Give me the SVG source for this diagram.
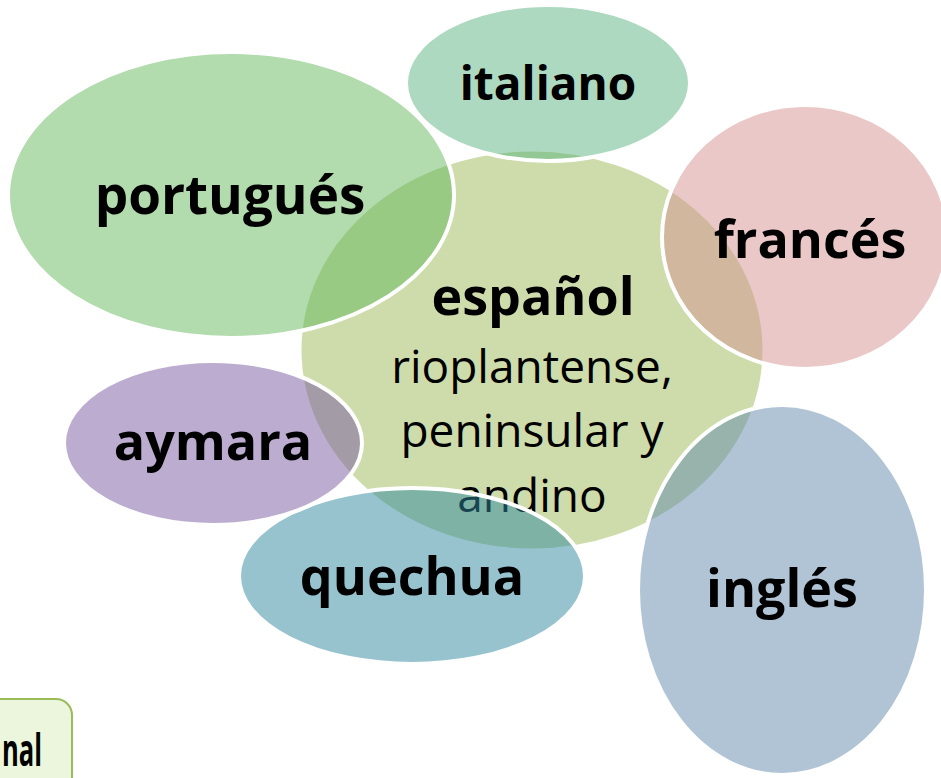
<svg xmlns="http://www.w3.org/2000/svg" width="941" height="778" viewBox="0 0 941 778">
<style>
.sat{stroke:#ffffff;stroke-width:4;fill-opacity:0.5}
.b{font-family:"Open Sans","Liberation Sans",sans-serif;font-weight:bold;font-size:52px;fill:#000;text-anchor:middle}
.r{font-family:"Open Sans","Liberation Sans",sans-serif;font-size:46px;fill:#000;text-anchor:middle}
</style>
<rect width="941" height="778" fill="#ffffff"/>
<g id="nodo-extra">
<rect x="-40" y="699" width="112" height="120" rx="16" fill="#ecf6dc" stroke="#9bbb59" stroke-width="2"/>
<text x="2" y="766" class="b" style="text-anchor:start;font-size:44px" textLength="40" lengthAdjust="spacingAndGlyphs">nal</text>
</g>
<g id="espanol">
<ellipse cx="532" cy="350" rx="232" ry="200" fill="#cddcaa" stroke="#ffffff" stroke-width="3"/>
<text x="533" y="315" class="b">español</text>
<text x="532" y="383" class="r">rioplantense,</text>
<text x="532" y="447" class="r">peninsular y</text>
<text x="532" y="512" class="r">andino</text>
</g>
<g id="portugues">
<ellipse cx="231" cy="195" rx="223" ry="143" class="sat" fill="#65b75d"/>
<text x="230" y="214" class="b" style="font-size:53px">portugués</text>
</g>
<g id="italiano">
<ellipse cx="548" cy="83" rx="142" ry="78" class="sat" fill="#59b37f"/>
<text x="548" y="100" class="b" style="font-size:46px">italiano</text>
</g>
<g id="frances">
<ellipse cx="805" cy="237" rx="143" ry="132" class="sat" fill="#d5918f"/>
<text x="810" y="258" class="b">francés</text>
</g>
<g id="ingles">
<ellipse cx="782" cy="590" rx="144" ry="185" class="sat" fill="#6189ad"/>
<text x="782" y="607" class="b">inglés</text>
</g>
<g id="quechua">
<ellipse cx="412" cy="576" rx="173" ry="88" class="sat" fill="#2f879f"/>
<text x="412" y="595" class="b">quechua</text>
</g>
<g id="aymara">
<ellipse cx="213" cy="443" rx="149" ry="82" class="sat" fill="#795ba1"/>
<text x="213" y="460" class="b">aymara</text>
</g>
<g id="conectores"></g>
</svg>
